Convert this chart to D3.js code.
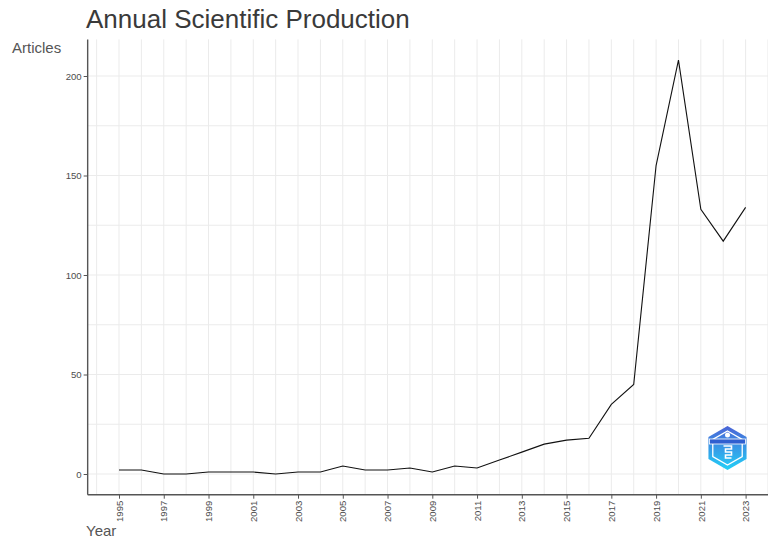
<!DOCTYPE html>
<html>
<head>
<meta charset="utf-8">
<script src="https://cdn.jsdelivr.net/npm/d3@7"></script>
<style>
  body { margin: 0; background: #fff; }
  svg { display: block; }
  .font { font-family: "Liberation Sans", Arial, sans-serif; }
  .tick-label { font-size: 9.6px; fill: #4d4d4d; }
  .grid { stroke: #ebebeb; stroke-width: 1; }
</style>
</head>
<body>
<svg id="chart" width="768" height="538"></svg>
<script>
const SVG_WIDTH = 768;
const SVG_HEIGHT = 538;

// data
const YEARS = [1995, 1996, 1997, 1998, 1999, 2000, 2001, 2002, 2003, 2004,
               2005, 2006, 2007, 2008, 2009, 2010, 2011, 2012, 2013, 2014,
               2015, 2016, 2017, 2018, 2019, 2020, 2021, 2022, 2023];
const ARTICLES = [2, 2, 0, 0, 1, 1, 1, 0, 1, 1,
                  4, 2, 2, 3, 1, 4, 3, 7, 11, 15,
                  17, 18, 35, 45, 155, 208, 133, 117, 134];
const Y_TICKS = [0, 50, 100, 150, 200];
const Y_MINOR = [25, 75, 125, 175];
const X_TICKS = d3.range(1995, 2024, 2);
const X_MINOR = d3.range(1994, 2025, 2);

const PLOT_TITLE_TXT = "Annual Scientific Production";
const Y_TITLE_TXT = "Articles";
const X_TITLE_TXT = "Year";

const svg = d3.select("#chart");

// ggplot-like 5% expansion around data range
const xMin = d3.min(YEARS), xMax = d3.max(YEARS);
const xPad = (xMax - xMin) * 0.05;
const yMax = d3.max(ARTICLES);
const yPad = yMax * 0.05;

const xScale = d3.scaleLinear()
    .domain([xMin, xMax])
    .range([119, 745.6]);
const yScale = d3.scaleLinear()
    .domain([0, 200])
    .range([474, 76]);

const PANEL_LEFT = xScale(xMin - xPad);
const PANEL_RIGHT = xScale(xMax + xPad);
const PANEL_TOP = yScale(yMax + yPad);
const PANEL_BOTTOM = yScale(-yPad);

// grid
const gridGroup = svg.append("g");
gridGroup.selectAll("yGrid")
    .data(Y_MINOR.concat(Y_TICKS))
    .enter()
    .append("line")
    .attr("class", "grid")
    .attr("x1", PANEL_LEFT)
    .attr("x2", PANEL_RIGHT)
    .attr("y1", d => yScale(d))
    .attr("y2", d => yScale(d));
gridGroup.selectAll("xGrid")
    .data(X_MINOR.concat(X_TICKS))
    .enter()
    .append("line")
    .attr("class", "grid")
    .attr("y1", PANEL_TOP)
    .attr("y2", PANEL_BOTTOM)
    .attr("x1", d => xScale(d))
    .attr("x2", d => xScale(d));

// line
const line = d3.line()
    .x((d, i) => xScale(YEARS[i]))
    .y(d => yScale(d));
svg.append("path")
    .datum(ARTICLES)
    .attr("d", line)
    .attr("fill", "none")
    .attr("stroke", "#111")
    .attr("stroke-width", 1.1);

// axes
const yAxis = d3.axisLeft(yScale)
    .tickValues(Y_TICKS)
    .tickSize(4)
    .tickPadding(2);
const yAxisGroup = svg.append("g")
    .attr("transform", "translate(" + PANEL_LEFT + ",0)")
    .call(yAxis);
yAxisGroup.select(".domain")
    .attr("d", "M0," + PANEL_TOP + "V" + PANEL_BOTTOM);

const xAxis = d3.axisBottom(xScale)
    .tickValues(X_TICKS)
    .tickFormat(d3.format("d"))
    .tickSize(4);
const xAxisGroup = svg.append("g")
    .attr("transform", "translate(0," + PANEL_BOTTOM + ")")
    .call(xAxis);
xAxisGroup.select(".domain")
    .attr("d", "M" + PANEL_LEFT + ",0H" + PANEL_RIGHT);
xAxisGroup.selectAll(".tick text")
    .attr("transform", "rotate(-90)")
    .attr("text-anchor", "end")
    .attr("x", -6)
    .attr("y", 0)
    .attr("dy", "0.33em");

[yAxisGroup, xAxisGroup].forEach(function(g) {
    g.selectAll(".domain")
        .attr("stroke", "#555")
        .attr("stroke-width", 1.4);
    g.selectAll(".tick line")
        .attr("stroke", "#555")
        .attr("stroke-width", 1);
    g.selectAll(".tick text")
        .attr("class", "font tick-label")
        .attr("font-family", null)
        .attr("font-size", null);
});

// titles
svg.append("text")
    .attr("x", 86)
    .attr("y", 28)
    .text(PLOT_TITLE_TXT)
    .attr("class", "font")
    .style("font-size", "26px")
    .style("fill", "#3a3a3a");
svg.append("text")
    .attr("x", 12)
    .attr("y", 52.5)
    .text(Y_TITLE_TXT)
    .attr("class", "font")
    .style("font-size", "15px")
    .style("fill", "#555");
svg.append("text")
    .attr("x", 86)
    .attr("y", 536)
    .text(X_TITLE_TXT)
    .attr("class", "font")
    .style("font-size", "15px")
    .style("fill", "#555");

// logo
const defs = svg.append("defs");
const grad = defs.append("linearGradient")
    .attr("id", "logoGrad")
    .attr("x1", 0).attr("y1", 0)
    .attr("x2", 0).attr("y2", 1);
grad.append("stop").attr("offset", "0%").attr("stop-color", "#4b63d6");
grad.append("stop").attr("offset", "100%").attr("stop-color", "#22d0f7");

function hexPoints(cx, cy, r) {
    return d3.range(6).map(function(i) {
        const a = Math.PI / 3 * i - Math.PI / 2;
        return [cx + r * Math.cos(a), cy + r * Math.sin(a)];
    });
}
const LOGO_X = 727.5, LOGO_Y = 448;
const logo = svg.append("g");
logo.append("polygon")
    .attr("points", hexPoints(LOGO_X, LOGO_Y, 22).join(" "))
    .attr("fill", "url(#logoGrad)");
logo.append("polygon")
    .attr("points", hexPoints(LOGO_X, LOGO_Y, 17).join(" "))
    .attr("fill", "none")
    .attr("stroke", "#fff")
    .attr("stroke-width", 1.3);
logo.append("rect")
    .attr("x", LOGO_X - 18)
    .attr("y", LOGO_Y - 9)
    .attr("width", 36)
    .attr("height", 5)
    .attr("fill", "#2f5fd0")
    .attr("stroke", "#fff")
    .attr("stroke-width", 0.8);
logo.append("path")
    .attr("d", "M" + (LOGO_X - 4) + "," + (LOGO_Y - 2) + "h8v3h-6v3h6v3h-6v3h6")
    .attr("fill", "none")
    .attr("stroke", "#fff")
    .attr("stroke-width", 1.6);
logo.append("circle")
    .attr("cx", LOGO_X)
    .attr("cy", LOGO_Y - 13)
    .attr("r", 2.5)
    .attr("fill", "#fff");
</script>
</body>
</html>
